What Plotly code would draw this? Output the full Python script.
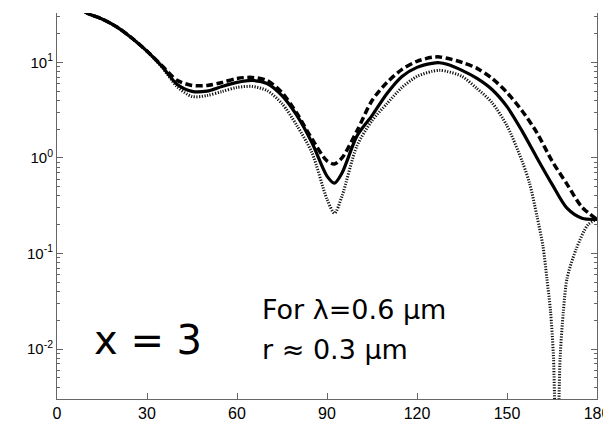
import plotly.graph_objects as go

# scattering angle (degrees) and phase-function values
angle_main = [0, 5, 10, 15, 20, 25, 30, 35, 40, 45, 50, 55, 60, 65, 70, 75, 80, 85, 90, 92.5, 95,
              100, 105, 110, 115, 120, 125, 127.5, 130, 135, 140, 145, 150, 155, 160, 165, 170, 175, 180]
solid_vals = [50, 42, 32.8, 28.4, 23.4, 17.9, 13.1, 9.08, 5.9, 4.97, 5.0, 5.59, 6.16, 6.46, 6.01, 4.49,
              2.77, 1.44, 0.646, 0.546, 0.695, 1.70, 2.77, 4.72, 7.12, 8.86, 9.76, 9.9, 9.53, 8.24, 6.79,
              5.20, 3.44, 1.92, 1.00, 0.532, 0.298, 0.234, 0.228]
dashed_vals = [50, 42, 32.8, 28.4, 23.4, 17.9, 13.1, 9.2, 6.5, 5.73, 5.73, 6.16, 6.79, 6.95, 6.46, 4.83,
               2.91, 1.58, 0.93, 0.865, 1.0, 1.92, 3.98, 6.16, 8.44, 10.25, 11.29, 11.4, 11.02, 10.0, 8.65,
               6.79, 4.83, 3.12, 1.83, 0.93, 0.532, 0.305, 0.228]
angle_dot = [0, 5, 10, 15, 20, 25, 30, 35, 40, 45, 50, 55, 60, 65, 70, 75, 80, 85, 90, 92.5, 95,
             100, 105, 110, 115, 120, 125, 127.5, 130, 135, 140, 145, 150, 155, 157.5, 160, 162, 163.3,
             164.5, 165.5, 166.6, 167.7, 168.8, 170, 173, 177, 180]
dotted_vals = [50, 42, 32.8, 28.4, 23.4, 17.9, 13.0, 8.9, 5.59, 4.39, 4.49, 4.95, 5.46, 5.59, 5.07, 3.70,
               2.17, 1.13, 0.370, 0.264, 0.398, 1.34, 2.45, 3.70, 5.46, 7.12, 8.04, 8.24, 8.04, 7.12, 5.32,
               3.79, 2.17, 0.93, 0.546, 0.245, 0.1185, 0.0546, 0.025, 0.008, 0.0003, 0.008, 0.025, 0.0546,
               0.11, 0.2, 0.228]

x_ticks = [0, 30, 60, 90, 120, 150, 180]
y_ticks = [0.01, 0.1, 1, 10]
y_ticktext = ["10<sup>-2</sup>", "10<sup>-1</sup>", "10<sup>0</sup>", "10<sup>1</sup>"]
y_minor = [m * 10.0 ** e for e in (-3, -2, -1, 0, 1) for m in range(2, 10)]

fig = go.Figure()
fig.add_trace(go.Scatter(x=angle_dot, y=dotted_vals, mode="lines",
                         line=dict(color="#111111", width=3, dash="1.2px,1.5px", shape="spline", smoothing=0.8),
                         showlegend=False))
fig.add_trace(go.Scatter(x=angle_main, y=solid_vals, mode="lines",
                         line=dict(color="black", width=3.2, shape="spline", smoothing=0.8),
                         showlegend=False))
fig.add_trace(go.Scatter(x=angle_main, y=dashed_vals, mode="lines",
                         line=dict(color="black", width=3.5, dash="7px,3.5px", shape="spline", smoothing=0.8),
                         showlegend=False))

axis_col = "#666666"
fig.update_layout(
    width=603, height=421,
    margin=dict(l=57, r=6, t=13, b=22, autoexpand=False),
    paper_bgcolor="white", plot_bgcolor="white",
    font=dict(family="Liberation Sans, Arial, sans-serif", color="black", size=16),
    xaxis=dict(range=[0, 180], tickvals=x_ticks, ticks="inside", ticklen=6, tickcolor=axis_col,
               showline=True, linecolor=axis_col, linewidth=1, mirror=False, showgrid=False,
               zeroline=False, tickfont=dict(size=16), ticklabeloverflow="allow", automargin=False),
    yaxis=dict(type="log", range=[-2.522, 1.516], tickvals=y_ticks, ticktext=y_ticktext,
               ticks="inside", ticklen=6, tickcolor=axis_col, automargin=False,
               showline=True, linecolor=axis_col, linewidth=1, mirror="allticks", showgrid=False,
               zeroline=False, tickfont=dict(size=15),
               minor=dict(tickvals=y_minor, ticks="inside", ticklen=3, tickcolor=axis_col, showgrid=False)),
)

fig.add_annotation(text="x = 3", xref="paper", yref="paper", x=0.1685, y=0.153,
                   xanchor="center", yanchor="middle", showarrow=False,
                   font=dict(family="DejaVu Sans", size=40, color="black"))
fig.add_annotation(text="For λ=0.6 μm", xref="paper", yref="paper", x=0.376, y=0.2306,
                   xanchor="left", yanchor="middle", showarrow=False,
                   font=dict(family="DejaVu Sans", size=27, color="black"))
fig.add_annotation(text="r ≈ 0.3 μm", xref="paper", yref="paper", x=0.376, y=0.1295,
                   xanchor="left", yanchor="middle", showarrow=False,
                   font=dict(family="DejaVu Sans", size=27, color="black"))

fig.write_html("out.html")
